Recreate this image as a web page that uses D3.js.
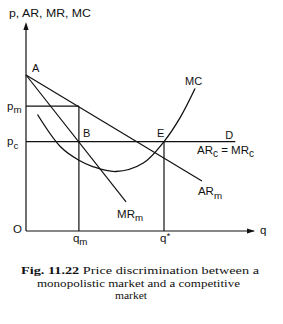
<!DOCTYPE html>
<html><head><meta charset="utf-8">
<script src="https://cdn.jsdelivr.net/npm/d3@7"></script>
<style>
html,body{margin:0;padding:0;background:#fff;}
svg{display:block;}
text{font-family:"Liberation Sans",Arial,sans-serif;fill:#111;}
.cap{font-family:"Liberation Serif","Times New Roman",serif;}
</style></head>
<body>
<svg id="c" width="283" height="324"></svg>
<script>
// ---- data (economic diagram units) ----
const priceTicks = [60, 43];               // p_m, p_c
const priceTickLabels = [["p","m"],["p","c"]];
const qtyTicks = [23, 60];                 // q_m, q*
const qtyTickLabels = [["q","m"],["q","*"]];
const arM = [[0,75],[76.5,24]];            // AR_m demand (monopolistic market)
const mrM = [[0,75],[43.5,14]];            // MR_m
const arC = [[0,43],[91,43]];              // AR_c = MR_c
const mcCurve = [[5,56],[15,40.5],[23,34],[29,31],[39,28.6],[51,32.7],[60,43],[67,54.5],[73.5,68.5]];
const pointA = [0,75];
const pointB = [23,43];
const pointE = [60,43];
const pointD = [91,43];
const caption = ["Fig. 11.22", " Price discrimination between a", "monopolistic market and a competitive", "market"];

const svg = d3.select("#c");
const x = d3.scaleLinear().domain([0,100]).range([26,256]);
const y = d3.scaleLinear().domain([0,100]).range([231,23]);
const line = d3.line().x(d=>x(d[0])).y(d=>y(d[1]));
const g = svg.append("g").attr("fill","none").attr("stroke","#111").attr("stroke-width",1.2);

// axes
g.append("path").attr("d", line([[0,0],[0,99]]));
g.append("path").attr("d", line([[0,0],[99,0]]));
svg.append("path").attr("fill","#111")
  .attr("d", `M${x(0)},${y(100)-1} l-2.6,8 l5.2,0 Z`);
svg.append("path").attr("fill","#111")
  .attr("d", `M${x(100)-1},${y(0)} l-8,-2.6 l0,5.2 Z`);

// guide lines
g.append("path").attr("d", line([[0,priceTicks[0]],[qtyTicks[0],priceTicks[0]]]));
g.append("path").attr("d", line(arC));
g.append("path").attr("d", line([[qtyTicks[0],0],[qtyTicks[0],priceTicks[0]]]));
g.append("path").attr("d", line([[qtyTicks[1],0],[qtyTicks[1],priceTicks[1]]]));

// curves
g.append("path").attr("d", line(arM));
g.append("path").attr("d", line(mrM));
g.append("path").attr("stroke-width",1.3)
  .attr("d", d3.line().x(d=>x(d[0])).y(d=>y(d[1])).curve(d3.curveCatmullRom)(mcCurve));

// text helper with subscript
function lab(tx, ty, main, sub, size, anchor){
  const t = svg.append("text").attr("x",tx).attr("y",ty)
    .attr("font-size",size).attr("text-anchor",anchor||"start");
  t.append("tspan").text(main);
  if (sub) t.append("tspan").attr("dy", sub==="*"? -size*0.3 : size*0.3)
    .attr("font-size", size*0.85).text(sub);
  return t;
}

// axis title
svg.append("text").attr("x",9).attr("y",16.5).attr("font-size",10.5)
  .attr("textLength",82).attr("lengthAdjust","spacingAndGlyphs").text("p, AR, MR, MC");

// price tick labels
priceTicks.forEach((p,i)=>{
  lab(7, y(p)+3.5, priceTickLabels[i][0], priceTickLabels[i][1], 11.5);
});
// qty tick labels
qtyTicks.forEach((q,i)=>{
  lab(x(q)-(i===0?6:4), y(0)+11, qtyTickLabels[i][0], qtyTickLabels[i][1], 11.5);
});
svg.append("text").attr("x",13).attr("y",y(0)+2).attr("font-size",11.5).text("O");
svg.append("text").attr("x",x(100)+4).attr("y",y(0)+3).attr("font-size",11.5).text("q");

// point labels
svg.append("text").attr("x",x(pointA[0])+6).attr("y",y(pointA[1])-3).attr("font-size",11).text("A");
svg.append("text").attr("x",x(pointB[0])+4).attr("y",y(pointB[1])-5).attr("font-size",11).text("B");
svg.append("text").attr("x",x(pointE[0])-7).attr("y",y(pointE[1])-5).attr("font-size",11).text("E");
svg.append("text").attr("x",x(pointD[0])-10).attr("y",y(pointD[1])-3).attr("font-size",11).text("D");

// curve labels
svg.append("text").attr("x",x(73.5)-10).attr("y",y(68.5)-4).attr("font-size",11).text("MC");
lab(x(76.5)-4, y(24)+14, "AR", "m", 11.5);
lab(x(43.5)-9, y(14)+16, "MR", "m", 11.5);
(function(){
  const t = svg.append("text").attr("x",197).attr("y",y(43)+12).attr("font-size",11.5);
  t.append("tspan").text("AR");
  t.append("tspan").attr("dy",3).attr("font-size",10).text("c");
  t.append("tspan").attr("dy",-3).text(" = MR");
  t.append("tspan").attr("dy",3).attr("font-size",10).text("c");
})();

// caption
const c1 = svg.append("text").attr("class","cap").attr("x",21).attr("y",274).attr("font-size",10.8)
  .attr("textLength",238).attr("lengthAdjust","spacingAndGlyphs");
c1.append("tspan").attr("font-weight","bold").text(caption[0]);
c1.append("tspan").text(caption[1]);
svg.append("text").attr("class","cap").attr("x",37).attr("y",286.5).attr("font-size",10.8)
  .attr("textLength",203).attr("lengthAdjust","spacingAndGlyphs").text(caption[2]);
svg.append("text").attr("class","cap").attr("x",115).attr("y",299).attr("font-size",10.8)
  .attr("textLength",32).attr("lengthAdjust","spacingAndGlyphs").text(caption[3]);
</script>
</body></html>
